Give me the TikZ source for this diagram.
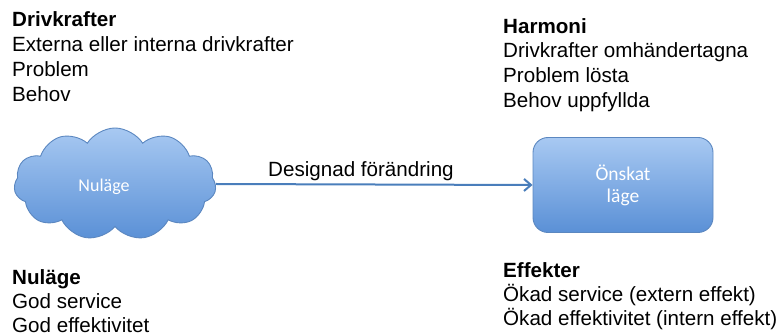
\documentclass[tikz,border=0pt]{standalone}
\usepackage{fontspec}
\setmainfont{Liberation Sans}
\newfontfamily\calib{Carlito}
\usetikzlibrary{shapes.symbols,arrows.meta}
\definecolor{edgeblue}{HTML}{5B87C0}
\definecolor{toplight}{HTML}{A8C9F2}
\definecolor{botdark}{HTML}{5A90D6}
\definecolor{arrowblue}{HTML}{4A7EBB}
\tikzset{
  lbl/.style={font=\fontsize{20.6}{24}\selectfont, inner sep=0pt, anchor=base west, text=black},
  hdr/.style={lbl, font=\fontsize{20.6}{24}\selectfont\bfseries},
  blueshape/.style={draw=edgeblue, line width=0.9pt, top color=toplight, bottom color=botdark},
  intext/.style={text=white, font=\calib\fontsize{18}{22}\selectfont, align=center, inner sep=0pt},
  flow/.style={draw=arrowblue, line width=2pt, -{Straight Barb[length=7pt,width=12pt,line width=2pt]}}
}
\begin{document}
\begin{tikzpicture}[x=1pt,y=-1pt]
\useasboundingbox (0,0) rectangle (776,336);
% shapes
\node[cloud, blueshape, cloud puffs=11, cloud puff arc=115, aspect=1.9,
      minimum width=202pt, minimum height=112pt, inner sep=0pt] (cloud) at (115,184) {};
\node[intext] (cloudtxt) at (104,187) {Nuläge};
\node[blueshape, rounded corners=15pt, minimum width=180pt, minimum height=95pt,
      intext, font=\calib\fontsize{19.5}{22}\selectfont] (goal) at (623,185) {Önskat\\läge};
\draw[flow] (cloud.east) -- (goal.west);
\node[lbl] (design) at (268,177) {Designad förändring};
% top left
\node[hdr] (d0) at (12,27) {Drivkrafter};
\node[lbl] (d1) at (12,52) {Externa eller interna drivkrafter};
\node[lbl] (d2) at (12,77) {Problem};
\node[lbl] (d3) at (12,102) {Behov};
% top right
\node[hdr] (h0) at (503,34) {Harmoni};
\node[lbl] (h1) at (503,58) {Drivkrafter omhändertagna};
\node[lbl] (h2) at (503,83) {Problem lösta};
\node[lbl] (h3) at (503,108) {Behov uppfyllda};
% bottom left
\node[hdr] (n0) at (12,285) {Nuläge};
\node[lbl] (n1) at (12,309) {God service};
\node[lbl] (n2) at (12,333) {God effektivitet};
% bottom right
\node[hdr] (e0) at (503,278) {Effekter};
\node[lbl] (e1) at (503,302) {Ökad service (extern effekt)};
\node[lbl] (e2) at (503,326) {Ökad effektivitet (intern effekt)};
\end{tikzpicture}
\end{document}
